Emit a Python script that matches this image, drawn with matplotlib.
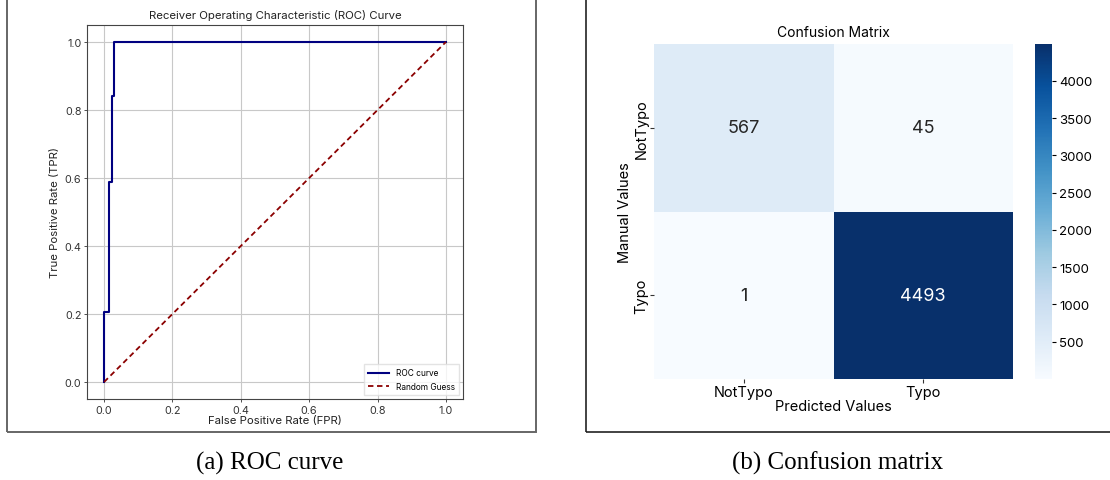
import matplotlib
matplotlib.use("Agg")
import matplotlib.pyplot as plt
import numpy as np
from matplotlib.patches import Rectangle

plt.rcParams["font.family"] = ["Inter", "DejaVu Sans"]

# ROC curve steps
fpr = [0.0, 0.0, 0.0155, 0.0155, 0.023, 0.023, 0.030, 0.030, 1.0]
tpr = [0.0, 0.207, 0.207, 0.589, 0.589, 0.840, 0.840, 1.0, 1.0]
guess = [0.0, 1.0]

# confusion matrix
class_names = ["NotTypo", "Typo"]
cm = np.array([[567, 45],
               [1, 4493]])
cbar_ticks = [500, 1000, 1500, 2000, 2500, 3000, 3500, 4000]

W, H = 1110, 481
fig = plt.figure(figsize=(W / 100, H / 100), dpi=100)


def fbox(x0, y0, x1, y1):
    # pixel box (top-left origin) -> figure fraction rect
    return [x0 / W, 1 - y1 / H, (x1 - x0) / W, (y1 - y0) / H]


# paper-style frames around each sub-figure
fig.patches.append(Rectangle((7 / W, 1 - 433 / H), 529 / W, 433 / H + 0.05,
                             transform=fig.transFigure, fill=False,
                             edgecolor="#666666", lw=1.4, clip_on=False))
fig.patches.append(Rectangle((586 / W, 1 - 433 / H), 600 / W, 433 / H + 0.05,
                             transform=fig.transFigure, fill=False,
                             edgecolor="#222222", lw=1.2, clip_on=False))

# ---- ROC ----
ax = fig.add_axes(fbox(87, 26, 463, 400))
ax.plot(fpr, tpr, color="navy", lw=1.5, label="ROC curve")
ax.plot(guess, guess, color="darkred", lw=1.3, ls=(0, (3, 2)), label="Random Guess")
ax.set_xlim(-0.05, 1.05)
ax.set_ylim(-0.05, 1.05)
ax.set_xticks(np.arange(0, 1.01, 0.2))
ax.set_yticks(np.arange(0, 1.01, 0.2))
ax.grid(True, color="#c8c8c8", lw=0.8)
ax.tick_params(labelsize=7.8, colors="#333333", length=2.5, width=0.6, pad=1.5)
for s in ax.spines.values():
    s.set_color("#444444")
    s.set_linewidth(0.8)
ax.set_title("Receiver Operating Characteristic (ROC) Curve", fontsize=8.2, pad=5,
             color="#222222")
ax.set_xlabel("False Positive Rate (FPR)", fontsize=8.2, labelpad=0.5, color="#222222")
ax.set_ylabel("True Positive Rate (TPR)", fontsize=8.2, labelpad=3, color="#222222")
ax.legend(loc="lower right", fontsize=6, handlelength=2.5, borderpad=0.5,
          framealpha=0.8, fancybox=False, edgecolor="#dddddd")

# ---- confusion matrix ----
ax2 = fig.add_axes(fbox(654, 45, 1013, 380))
cax = fig.add_axes(fbox(1035, 45, 1052, 380))
mesh = ax2.pcolormesh(cm, cmap="Blues", vmin=cm.min(), vmax=cm.max())
ax2.set_xlim(0, 2)
ax2.set_ylim(2, 0)
for s in ax2.spines.values():
    s.set_visible(False)
for i in range(2):
    for j in range(2):
        v = cm[i, j]
        col = "white" if v > cm.max() / 2 else "#262626"
        ax2.text(j + 0.5, i + 0.5, str(v), ha="center", va="center",
                 fontsize=13, color=col)
ax2.set_xticks([0.5, 1.5])
ax2.set_xticklabels(class_names, fontsize=10.5)
ax2.set_yticks([0.5, 1.5])
ax2.set_yticklabels(class_names, fontsize=10.5, rotation=90, va="center")
ax2.tick_params(length=3, width=0.8, colors="#333333", labelcolor="black", pad=1)
ax2.set_title("Confusion Matrix", fontsize=10, pad=6)
ax2.set_xlabel("Predicted Values", fontsize=10.5, labelpad=0)
ax2.set_ylabel("Manual Values", fontsize=10.5, labelpad=2)

cb = fig.colorbar(mesh, cax=cax, ticks=cbar_ticks)
cb.outline.set_visible(False)
cb.ax.tick_params(labelsize=9.5, length=3, width=0.8, pad=2)

# captions
cap_font = dict(fontsize=18, family="Liberation Serif", ha="center", va="center")
fig.text(270 / W, 1 - 463 / H, "(a) ROC curve", **cap_font)
fig.text(838 / W, 1 - 463 / H, "(b) Confusion matrix", **cap_font)

fig.savefig("out.png", dpi=100)
